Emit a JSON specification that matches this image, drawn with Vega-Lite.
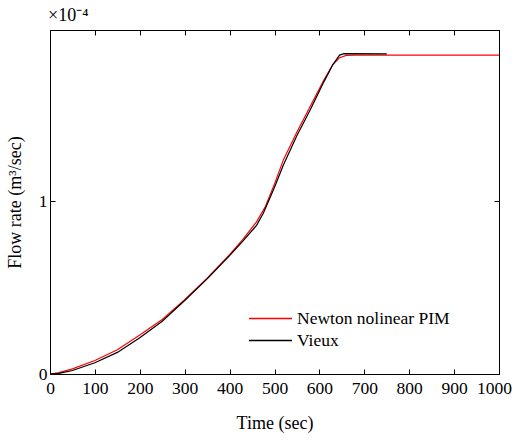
{
  "$schema": "https://vega.github.io/schema/vega-lite/v6.json",
  "width": 449,
  "height": 344,
  "autosize": "none",
  "padding": {"left": 50, "top": 30, "right": 16, "bottom": 66},
  "config": {
    "font": "Liberation Serif",
    "view": {"stroke": "black", "strokeWidth": 1},
    "axis": {
      "grid": false,
      "domainColor": "black",
      "domainWidth": 1,
      "tickColor": "black",
      "tickWidth": 1,
      "tickSize": -5,
      "labelColor": "black",
      "titleColor": "black",
      "labelFont": "Liberation Serif",
      "titleFont": "Liberation Serif",
      "labelFontSize": 17.5,
      "titleFontSize": 18,
      "titleFontWeight": "normal",
      "labelOverlap": false,
      "labelFlush": false
    },
    "legend": {"labelFont": "Liberation Serif", "labelFontSize": 17.5, "labelColor": "black"}
  },
  "title": {"text": "×10⁻⁴", "anchor": "start", "frame": "group", "font": "Liberation Serif", "fontSize": 18, "fontWeight": "normal", "color": "black", "offset": 5, "dx": -2},
  "data": {"values": [
    {"t": 0, "q": 0, "series": "Newton nolinear PIM"},
    {"t": 20, "q": 0.008, "series": "Newton nolinear PIM"},
    {"t": 50, "q": 0.03, "series": "Newton nolinear PIM"},
    {"t": 100, "q": 0.078, "series": "Newton nolinear PIM"},
    {"t": 150, "q": 0.14, "series": "Newton nolinear PIM"},
    {"t": 200, "q": 0.225, "series": "Newton nolinear PIM"},
    {"t": 250, "q": 0.315, "series": "Newton nolinear PIM"},
    {"t": 300, "q": 0.43, "series": "Newton nolinear PIM"},
    {"t": 350, "q": 0.555, "series": "Newton nolinear PIM"},
    {"t": 400, "q": 0.69, "series": "Newton nolinear PIM"},
    {"t": 430, "q": 0.78, "series": "Newton nolinear PIM"},
    {"t": 460, "q": 0.88, "series": "Newton nolinear PIM"},
    {"t": 480, "q": 0.97, "series": "Newton nolinear PIM"},
    {"t": 500, "q": 1.1, "series": "Newton nolinear PIM"},
    {"t": 520, "q": 1.24, "series": "Newton nolinear PIM"},
    {"t": 550, "q": 1.4, "series": "Newton nolinear PIM"},
    {"t": 580, "q": 1.55, "series": "Newton nolinear PIM"},
    {"t": 610, "q": 1.7, "series": "Newton nolinear PIM"},
    {"t": 630, "q": 1.79, "series": "Newton nolinear PIM"},
    {"t": 645, "q": 1.83, "series": "Newton nolinear PIM"},
    {"t": 660, "q": 1.843, "series": "Newton nolinear PIM"},
    {"t": 680, "q": 1.845, "series": "Newton nolinear PIM"},
    {"t": 1000, "q": 1.845, "series": "Newton nolinear PIM"},
    {"t": 0, "q": 0, "series": "Vieux"},
    {"t": 20, "q": 0.004, "series": "Vieux"},
    {"t": 50, "q": 0.02, "series": "Vieux"},
    {"t": 100, "q": 0.065, "series": "Vieux"},
    {"t": 150, "q": 0.125, "series": "Vieux"},
    {"t": 200, "q": 0.21, "series": "Vieux"},
    {"t": 250, "q": 0.305, "series": "Vieux"},
    {"t": 300, "q": 0.425, "series": "Vieux"},
    {"t": 350, "q": 0.55, "series": "Vieux"},
    {"t": 400, "q": 0.685, "series": "Vieux"},
    {"t": 430, "q": 0.77, "series": "Vieux"},
    {"t": 460, "q": 0.86, "series": "Vieux"},
    {"t": 475, "q": 0.93, "series": "Vieux"},
    {"t": 490, "q": 1.02, "series": "Vieux"},
    {"t": 500, "q": 1.08, "series": "Vieux"},
    {"t": 520, "q": 1.21, "series": "Vieux"},
    {"t": 550, "q": 1.38, "series": "Vieux"},
    {"t": 580, "q": 1.53, "series": "Vieux"},
    {"t": 610, "q": 1.69, "series": "Vieux"},
    {"t": 630, "q": 1.79, "series": "Vieux"},
    {"t": 645, "q": 1.845, "series": "Vieux"},
    {"t": 655, "q": 1.853, "series": "Vieux"},
    {"t": 750, "q": 1.852, "series": "Vieux"}
  ]},
  "layer": [
    {
      "mark": {"type": "line", "strokeWidth": 1.2},
      "encoding": {
        "x": {"field": "t", "type": "quantitative", "scale": {"domain": [0, 1000], "nice": false},
          "axis": {"orient": "bottom", "values": [0, 100, 200, 300, 400, 500, 600, 700, 800, 900, 1000], "format": "d", "title": "Time (sec)", "labelPadding": 10, "titlePadding": 18,
            "labelOffset": {"condition": {"test": "datum.value == 1000", "value": -5}, "value": 0}}},
        "y": {"field": "q", "type": "quantitative", "scale": {"domain": [0, 1.99], "nice": false},
          "axis": {"orient": "left", "values": [0, 1], "format": "d", "title": "Flow rate (m³/sec)", "labelPadding": 8, "titlePadding": 14}},
        "color": {"field": "series", "type": "nominal",
          "scale": {"domain": ["Newton nolinear PIM", "Vieux"], "range": ["#ff0000", "#000000"]},
          "legend": {"title": null, "orient": "none", "legendX": 209, "legendY": 277, "symbolType": "M-2,0H2", "symbolSize": 462, "symbolStrokeWidth": 1.3, "rowPadding": 2, "labelOffset": 15, "padding": 0}}
      }
    },
    {
      "mark": {"type": "line", "opacity": 0},
      "encoding": {
        "x": {"field": "t", "type": "quantitative", "axis": {"orient": "top", "values": [0, 100, 200, 300, 400, 500, 600, 700, 800, 900, 1000], "labels": false, "title": null}},
        "y": {"field": "q", "type": "quantitative", "axis": {"orient": "right", "values": [0, 1], "labels": false, "title": null}},
        "detail": {"field": "series", "type": "nominal"}
      }
    }
  ],
  "resolve": {"axis": {"x": "independent", "y": "independent"}}
}
